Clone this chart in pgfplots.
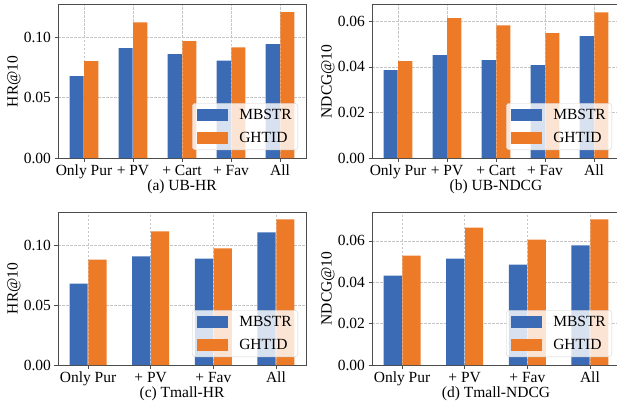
\documentclass[border=0pt]{standalone}
\usepackage{fontspec}
\setmainfont{Liberation Serif}
\usepackage{pgfplots}
\pgfplotsset{compat=1.18}
\definecolor{cblue}{HTML}{3B6BB5}
\definecolor{corange}{HTML}{EC7A27}
\newcommand{\F}{\fontsize{15.5}{18}\selectfont}
\pgfplotsset{
  mylegend/.style={legend image code/.code={\fill[##1, fill opacity=1, draw=none, sharp corners] (0pt,-6pt) rectangle (31pt,6pt);}},
  panel/.style={
    scale only axis, width=248pt, height=153pt,
    ybar, bar width=0.29,
    every axis plot post/.append style={mylegend},
    ymin=0,
    scaled y ticks=false,
    /pgf/number format/assume math mode=true,
    yticklabel style={/pgf/number format/fixed, /pgf/number format/fixed zerofill, /pgf/number format/precision=2},
    tick label style={font=\F},
    label style={font=\F},
    xmajorgrids, ymajorgrids,
    grid style={dashed, dash pattern=on 2.5pt off 1.5pt, gray!45, line width=0.6pt},
    axis line style={black!70, line width=1pt},
    tick style={black!70, line width=0.8pt},
    major tick length=3.5pt, tick align=outside,
    xtick pos=bottom, ytick pos=left,
    ylabel style={at={(axis description cs:-0.1774,0.5)}, anchor=center},
    xlabel style={at={(axis description cs:0.5,-0.186)}, anchor=center},
    legend style={font=\F, draw=gray!35, fill=white, fill opacity=0.8, text opacity=1,
      rounded corners=3pt, inner xsep=5pt, inner ysep=5pt, row sep=9pt, column sep=10pt,
      at={(axis description cs:1,0)}, anchor=south east, xshift=-8pt, yshift=8pt,
      nodes={inner sep=1pt}},
    legend cell align=left,
  },
  five/.style={xmin=-0.53, xmax=4.53, xtick={0,1,2,3,4},
    xticklabels={Only Pur,+ PV,+ Cart,+ Fav,All}},
  four/.style={xmin=-0.48, xmax=3.48, xtick={0,1,2,3},
    xticklabels={Only Pur,+ PV,+ Fav,All}},
}
\begin{document}
\begin{tikzpicture}
\path[use as bounding box] (0,0) rectangle (617pt,408pt);
% (a)
\begin{axis}[panel, five, at={(58pt,250pt)}, anchor=south west,
  ymax=0.1267, ytick={0,0.05,0.10}, ylabel={HR@10}, xlabel={(a) UB-HR}]
\addplot[fill=cblue, draw=none, bar shift=-0.15] coordinates {(0,0.0678) (1,0.0909) (2,0.0860) (3,0.0807) (4,0.0942)};
\addplot[fill=corange, draw=none, bar shift=0.15] coordinates {(0,0.0802) (1,0.1124) (2,0.0967) (3,0.0917) (4,0.1207)};
\legend{MBSTR,GHTID}
\end{axis}
% (b)
\begin{axis}[panel, five, at={(372pt,250pt)}, anchor=south west,
  ymax=0.0672, ytick={0,0.02,0.04,0.06}, ylabel={NDCG@10}, xlabel={(b) UB-NDCG}]
\addplot[fill=cblue, draw=none, bar shift=-0.15] coordinates {(0,0.0386) (1,0.0452) (2,0.0430) (3,0.0408) (4,0.0535)};
\addplot[fill=corange, draw=none, bar shift=0.15] coordinates {(0,0.0425) (1,0.0614) (2,0.0583) (3,0.0548) (4,0.0640)};
\legend{MBSTR,GHTID}
\end{axis}
% (c)
\begin{axis}[panel, four, at={(58pt,43pt)}, anchor=south west,
  ymax=0.1280, ytick={0,0.05,0.10}, ylabel={HR@10}, xlabel={(c) Tmall-HR}]
\addplot[fill=cblue, draw=none, bar shift=-0.15] coordinates {(0,0.0681) (1,0.0908) (2,0.0891) (3,0.1109)};
\addplot[fill=corange, draw=none, bar shift=0.15] coordinates {(0,0.0882) (1,0.1118) (2,0.0975) (3,0.1218)};
\legend{MBSTR,GHTID}
\end{axis}
% (d)
\begin{axis}[panel, four, at={(372pt,43pt)}, anchor=south west,
  ymax=0.0740, ytick={0,0.02,0.04,0.06}, ylabel={NDCG@10}, xlabel={(d) Tmall-NDCG}]
\addplot[fill=cblue, draw=none, bar shift=-0.15] coordinates {(0,0.0432) (1,0.0515) (2,0.0485) (3,0.0578)};
\addplot[fill=corange, draw=none, bar shift=0.15] coordinates {(0,0.0529) (1,0.0665) (2,0.0607) (3,0.0704)};
\legend{MBSTR,GHTID}
\end{axis}
\end{tikzpicture}
\end{document}
